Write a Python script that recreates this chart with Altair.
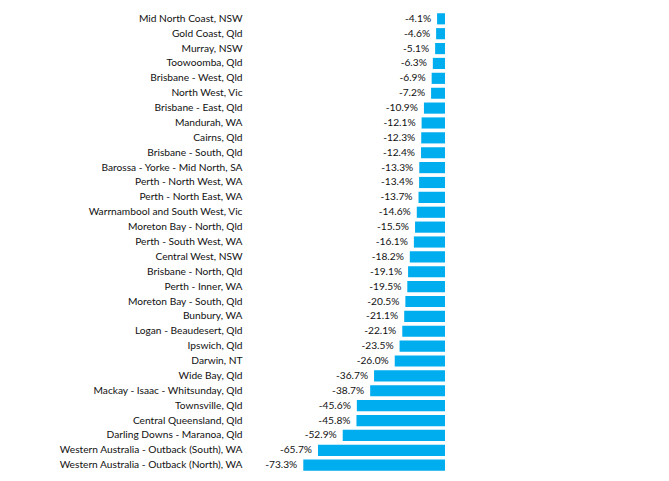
import altair as alt
import pandas as pd

regions = [
    "Mid North Coast, NSW", "Gold Coast, Qld", "Murray, NSW", "Toowoomba, Qld",
    "Brisbane - West, Qld", "North West, Vic", "Brisbane - East, Qld", "Mandurah, WA",
    "Cairns, Qld", "Brisbane - South, Qld", "Barossa - Yorke - Mid North, SA",
    "Perth - North West, WA", "Perth - North East, WA", "Warrnambool and South West, Vic",
    "Moreton Bay - North, Qld", "Perth - South West, WA", "Central West, NSW",
    "Brisbane - North, Qld", "Perth - Inner, WA", "Moreton Bay - South, Qld",
    "Bunbury, WA", "Logan - Beaudesert, Qld", "Ipswich, Qld", "Darwin, NT",
    "Wide Bay, Qld", "Mackay - Isaac - Whitsunday, Qld", "Townsville, Qld",
    "Central Queensland, Qld", "Darling Downs - Maranoa, Qld",
    "Western Australia - Outback (South), WA", "Western Australia - Outback (North), WA",
]
values = [
    -4.1, -4.6, -5.1, -6.3, -6.9, -7.2, -10.9, -12.1, -12.3, -12.4, -13.3, -13.4,
    -13.7, -14.6, -15.5, -16.1, -18.2, -19.1, -19.5, -20.5, -21.1, -22.1, -23.5,
    -26.0, -36.7, -38.7, -45.6, -45.8, -52.9, -65.7, -73.3,
]

df = pd.DataFrame({"region": regions, "value": values})
df["label"] = [f"{v:.1f}%" for v in values]

FONT = "Lato"

y = alt.Y("region:N", sort=regions, title=None,
          scale=alt.Scale(paddingInner=0.25, paddingOuter=0.15),
          axis=alt.Axis(domain=False, ticks=False, grid=False, labelPadding=18,
                        labelFont=FONT, labelFontSize=10.2, labelColor="#111111",
                        labelLimit=300))
x = alt.X("value:Q", title=None, scale=alt.Scale(domain=[-95.7, 0], nice=False),
          axis=None)

bars = alt.Chart(df).mark_bar(color="#00ADEF").encode(x=x, y=y)
text = alt.Chart(df).mark_text(align="right", baseline="middle", dx=-6,
                               font=FONT, fontSize=10.2, color="#111111").encode(
    x=x, y=y, text="label:N")

chart = (bars + text).properties(
    width=185, height=462,
    autosize=alt.AutoSizeParams(type="none"),
    padding={"left": 252, "top": 3, "right": 0, "bottom": 0},
).configure(background="#ffffff").configure_view(stroke=None, strokeWidth=0)

chart.save("out.html", embed_options={"renderer": "svg", "actions": False})
